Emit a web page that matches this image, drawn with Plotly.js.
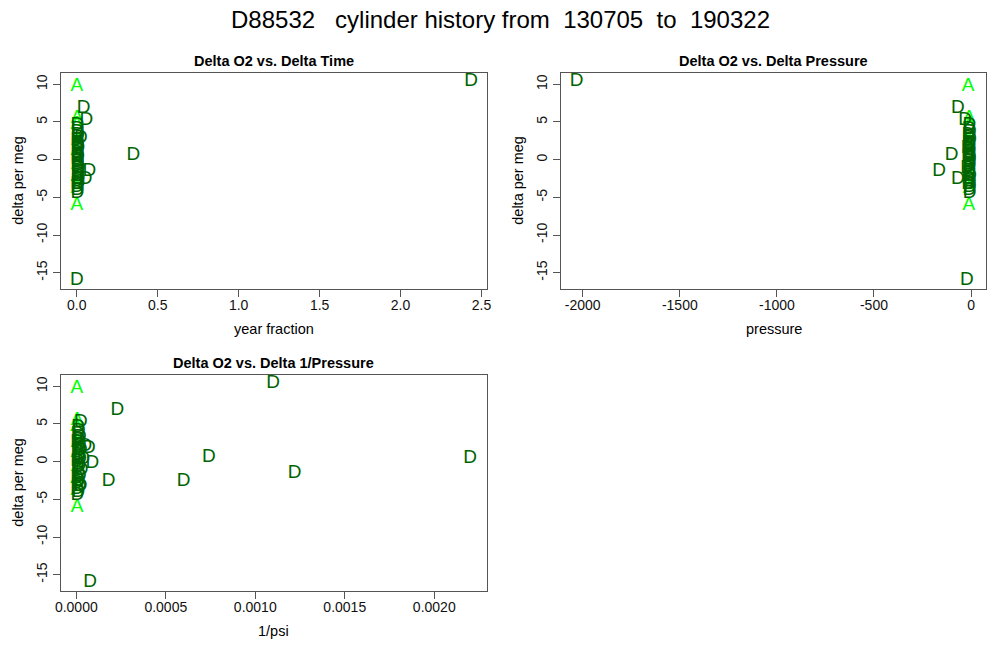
<!DOCTYPE html>
<html>
<head>
<meta charset="utf-8">
<script src="https://cdn.plot.ly/plotly-3.0.1.min.js"></script>
<style>html,body{margin:0;padding:0;background:#fff;}#chart{width:1000px;height:670px;}</style>
</head>
<body>
<div id="chart"></div>
<script>
// ---- data ----
const labels = [
  "A","A","A","A","A","A","A","A","A",
  "D","D","D","D","D","D","D","D","D","D","D","D","D","D","D","D","D","D","D","D","D","D","D","D","D","D","D",
  "D","D","D","D","D","D","D","D","D","D",
  "D","D","D","D","D"
];
const yearFraction = [
  0.001,0.002,0.001,0.003,0.001,0.002,0.001,0.002,0.001,
  0.004,0.006,0.003,0.008,0.005,0.002,0.007,0.004,0.010,0.003,0.006,0.005,0.009,0.002,0.004,0.007,0.003,0.012,0.005,0.008,0.003,0.006,0.004,0.010,0.002,0.005,0.003,
  2.435,0.042,0.060,0.025,0.350,0.006,0.078,0.055,0.012,0.000,
  0.004,0.006,0.003,0.002,0.005
];
const pressure = [
  -15,-10,-8,-12,-9,-11,-7,-10,-12,
  -9,-11,-6,-14,-8,-5,-12,-10,-18,-7,-9,-13,-16,-6,-8,-11,-7,-20,-9,-12,-5,-10,-8,-15,-6,-9,-7,
  -2031,-68,-31,-12,-100,-10,-165,-68,-14,-21,
  -9,-11,-8,-7,-10
];
const invPsi = [
  0.000003,0.000004,0.000002,0.000005,0.000003,0.000004,0.000002,0.000003,0.000004,
  0.000010,0.000015,0.000008,0.000020,0.000012,0.000005,0.000018,0.000010,0.000025,0.000006,0.000014,0.000016,0.000022,0.000004,0.000009,0.000017,0.000007,0.000030,0.000012,0.000020,0.000005,0.000013,0.000008,0.000024,0.000004,0.000011,0.000006,
  0.00110,0.00023,0.000025,0.000012,0.00074,0.00220,0.00122,0.00060,0.00018,0.000077,
  0.000070,0.000090,0.000040,0.000020,0.000050
];
const deltaPerMeg = [
  9.8,5.5,4.7,2.6,1.2,-0.6,-2.2,-3.8,-6.1,
  4.5,4.1,3.7,3.3,3.0,2.6,2.2,1.9,1.5,1.2,0.9,0.6,0.3,0.0,-0.3,-0.6,-0.9,-1.2,-1.5,-1.9,-2.2,-2.6,-2.9,-3.3,-3.7,-4.1,-4.5,
  10.4,6.8,5.2,2.9,0.6,0.5,-1.5,-2.6,-2.6,-16.0,
  1.8,-0.2,0.3,-3.3,2.0
];
const yTicks = [-15,-10,-5,0,5,10];
const yTickText = ["-15","-10","-5","0","5","10"];
const timeTicks = [0,0.5,1,1.5,2,2.5];
const timeTickText = ["0.0","0.5","1.0","1.5","2.0","2.5"];
const pressTicks = [-2000,-1500,-1000,-500,0];
const pressTickText = ["-2000","-1500","-1000","-500","0"];
const invTicks = [0,0.0005,0.001,0.0015,0.002];
const invTickText = ["0.0000","0.0005","0.0010","0.0015","0.0020"];
const mainTitle = "D88532\u00a0\u00a0\u00a0cylinder history from\u00a0\u00a0130705\u00a0\u00a0to\u00a0\u00a0190322";
const panelTitles = ["Delta O2 vs. Delta Time","Delta O2 vs. Delta Pressure","Delta O2 vs. Delta 1/Pressure"];
const xTitles = ["year fraction","pressure","1/psi"];
const yTitle = "delta per meg";

// ---- build ----
const FONT = "Liberation Sans, Arial, Helvetica, sans-serif";
const colorOf = {A:"#00ff00", D:"#006400"};
const xs = [yearFraction, pressure, invPsi];
const axisNames = [["x","y"],["x2","y2"],["x3","y3"]];
const traces = [];
for (let p = 0; p < 3; p++) {
  for (const lab of ["A","D"]) {
    const idx = labels.map((l,i)=>l===lab?i:-1).filter(i=>i>=0);
    traces.push({
      type:"scatter", mode:"text",
      x: idx.map(i=>xs[p][i]), y: idx.map(i=>deltaPerMeg[i]),
      text: idx.map(i=>labels[i]),
      textposition:"middle center",
      textfont:{family:FONT, size:19, color:colorOf[lab]},
      xaxis:axisNames[p][0], yaxis:axisNames[p][1],
      hoverinfo:"x+y", showlegend:false, cliponaxis:false
    });
  }
}

const W = 1000, H = 670;
const boxes = [
  {x0:61, x1:486.7, y0:73, y1:288.5},
  {x0:561, x1:986, y0:73, y1:288.5},
  {x0:61, x1:486.7, y0:375, y1:590.5}
];
const yRange = [-17.1, 11.5];
const xRanges = [[-0.0974, 2.532],[-2112, 77],[-0.0000855, 0.002293]];
const xTickSets = [[timeTicks,timeTickText],[pressTicks,pressTickText],[invTicks,invTickText]];

function baseAxis() {
  return {
    showline:true, mirror:true, linecolor:"#555", linewidth:1,
    ticks:"outside", ticklen:7, tickcolor:"#555", tickwidth:1,
    showgrid:false, zeroline:false, fixedrange:true,
    tickfont:{family:FONT, size:14, color:"#111"}
  };
}

const layout = {
  width:W, height:H,
  margin:{l:0,r:0,t:0,b:0},
  paper_bgcolor:"#fff", plot_bgcolor:"#fff",
  showlegend:false,
  annotations:[]
};
for (let p = 0; p < 3; p++) {
  const b = boxes[p];
  const sx = p===0?"":String(p+1);
  const xa = baseAxis();
  Object.assign(xa, {
    domain:[b.x0/W, b.x1/W], range:xRanges[p], anchor:"y"+sx,
    tickmode:"array", tickvals:xTickSets[p][0], ticktext:xTickSets[p][1],
    ticklabelstandoff:-3
  });
  const ya = baseAxis();
  Object.assign(ya, {
    domain:[1-b.y1/H, 1-b.y0/H], range:yRange, anchor:"x"+sx,
    tickmode:"array", tickvals:yTicks, ticktext:yTickText, tickangle:-90
  });
  layout["xaxis"+sx] = xa;
  layout["yaxis"+sx] = ya;
  const cx = (b.x0+b.x1)/2/W;
  layout.annotations.push({
    text:"<b>"+panelTitles[p]+"</b>", xref:"paper", yref:"paper",
    x:cx, y:1-(b.y0-12)/H, xanchor:"center", yanchor:"middle", showarrow:false,
    font:{family:FONT, size:14.5, color:"#000"}
  });
  layout.annotations.push({
    text:xTitles[p], xref:"paper", yref:"paper",
    x:cx, y:1-(b.y1+40)/H, xanchor:"center", yanchor:"middle", showarrow:false,
    font:{family:FONT, size:14.5, color:"#000"}
  });
  layout.annotations.push({
    text:yTitle, xref:"paper", yref:"paper", textangle:-90,
    x:(b.x0-43)/W, y:1-(b.y0+b.y1)/2/H, xanchor:"center", yanchor:"middle", showarrow:false,
    font:{family:FONT, size:14.5, color:"#000"}
  });
}
layout.annotations.push({
  text:mainTitle, xref:"paper", yref:"paper", x:0.5, y:1-20/H,
  xanchor:"center", yanchor:"middle", showarrow:false,
  font:{family:FONT, size:24, color:"#000"}
});

Plotly.newPlot("chart", traces, layout, {staticPlot:true, displayModeBar:false});
</script>
</body>
</html>
